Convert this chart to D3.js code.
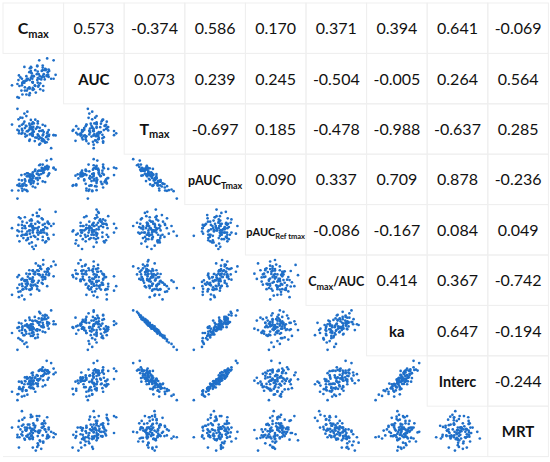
<!DOCTYPE html>
<html>
<head>
<meta charset="utf-8">
<script src="https://cdn.jsdelivr.net/npm/d3@7"></script>
<style>
  body { margin: 0; background: #fff; }
  svg { display: block; }
</style>
</head>
<body>
<svg id="chart" width="550" height="462"></svg>
<script>
// per-subject parameters (standardised units, estimated from the clouds)
var cmax = [-7,-5,27,-10,17,-24,6,2,-32,43,6,9,-13,21,7,-31,-1,-3,-16,27,-25,24,-3,-26,-3,12,29,-13,-2,26,-9,-10,-10,18,-28,15,17,-15,-34,34,-20,9,17,1,3,-6,-14,-18,39,-6,20,-25,7,7,-9,22,-30,30,-9,5,-1,-19,28,-24,10,-19,8,19,10,22,-5,-3,-9,-7,17,-31,15,-17,26,-16,25,-24,14,-4,-4,2,-3,6,-34,-45,29,-7,12,11,-15,18,-22,39,-3,-20];
var auc = [2,5,7,-12,14,-23,20,-10,-1,7,-1,8,-14,0,2,6,-15,-13,5,11,1,15,-4,-17,5,-6,15,1,5,5,17,-24,11,-17,3,13,18,-17,-27,1,19,-9,21,-9,-20,18,-1,-2,1,10,4,-9,-5,12,-21,14,-10,13,-1,8,5,-17,7,-6,29,-12,-11,8,1,16,9,-15,-14,13,5,-28,3,-2,32,-23,6,-5,0,-4,1,14,-16,21,-7,-9,4,19,-15,5,1,-10,-3,29,-5,-5];
var tmax = [-17,51,-30,13,-67,-9,31,-41,84,-27,30,-52,2,-71,56,-12,-1,-30,107,-3,18,-39,-6,-15,64,-83,10,4,32,-30,41,-64,54,-20,96,-47,47,-28,11,-115,68,-33,8,-66,19,18,137,-35,-24,30,-62,47,-20,71,-20,-77,37,-23,26,-42,56,-16,-54,95,3,24,-26,-3,-91,39,-12,10,-55,80,-27,5,-61,40,-12,37,-74,7,5,21,-28,82,-20,31,157,48,-32,21,-42,26,2,-54,54,-25,3,124];
var pauc_tmax = [-6,-12,22,-11,36,-23,-4,21,-41,21,8,18,10,21,-10,-9,1,4,-40,2,-11,25,2,5,-29,36,6,2,-19,32,-12,3,-15,11,-28,18,-14,1,-25,52,-20,5,23,17,-5,-8,-43,-13,25,2,24,-35,16,-21,7,29,-21,10,-2,9,-14,7,24,-42,5,-8,8,13,34,-16,6,6,4,-22,24,-27,26,-26,25,-26,48,-27,8,-6,6,-32,13,-4,-65,-41,29,-19,18,-4,10,18,-26,27,-4,-38];
var pauc_ref = [3,-12,6,-1,9,-5,1,-7,4,16,-3,2,-9,5,-1,11,-18,3,-4,7,-2,-11,1,-6,13,-3,5,-8,0,-5,8,-13,3,-1,10,-3,-10,6,-1,3,-5,12,-7,1,-15,5,-2,1,-5,9,-3,4,-9,7,-4,2,-11,5,-1,15,-6,3,-8,1,-3,11,-5,0,6,-12,8,-1,3,-7,4,-2,10,-5,1,-10,-4,7,-1,2,-16,5,-3,12,-6,1,-9,4,-3,18,-5,0,-8,5,-1,3];
var cmax_auc = [-18,-7,19,13,-2,1,-27,18,-34,37,23,-5,6,19,13,-48,14,23,-26,20,-44,12,-7,-2,-9,28,10,-13,-17,26,-29,23,-28,50,-33,-10,5,-3,5,33,-54,21,-13,12,41,-27,-8,-22,46,-17,5,-13,23,-10,13,0,-15,14,1,-19,-5,-6,28,-19,-31,-3,35,5,12,4,-24,22,0,-15,11,10,5,-13,-19,14,19,-28,26,-4,0,-15,21,-20,-24,-42,26,-41,33,10,-18,38,-27,7,4,-4];
var ka = [3,-9,5,-2,15,0,-6,8,-16,3,-4,11,-1,13,-11,5,-3,7,-22,1,-5,10,-1,4,-13,18,-3,1,-8,6,-5,12,-10,2,-18,9,-7,3,-2,22,-12,5,-1,13,-5,0,-28,8,3,-4,10,-9,5,-15,1,16,-6,4,-3,7,-11,1,12,-20,2,-5,6,-1,20,-8,3,-3,9,-13,5,-1,11,-7,4,-10,15,-2,0,-6,8,-16,3,-4,-32,-9,5,-3,6,-5,1,10,-12,7,-1,-24];
var interc = [-11,-11,30,-21,40,-26,2,9,-42,24,2,29,6,22,-18,-4,-1,-12,-31,2,-8,20,15,-4,-24,33,8,-11,-12,31,-2,-4,-12,0,-27,30,-19,5,-43,53,-12,2,29,7,-9,-3,-44,-3,19,5,29,-50,14,-10,-1,32,-21,25,-7,16,-26,9,21,-33,4,-2,-1,17,30,-15,22,-1,9,-24,13,-26,34,-31,28,-32,60,-28,13,-22,8,-35,24,-12,-61,-35,24,-16,5,3,10,15,-21,36,-5,-48];
var mrt = [23,-7,-6,-12,6,-1,20,0,7,-5,-26,1,-6,3,-8,17,2,-10,1,-8,33,-1,3,-5,-3,-17,6,11,13,-9,-4,-11,11,-19,3,12,-7,6,-6,-1,22,-3,12,6,-32,1,-9,2,-10,-1,17,9,-20,-1,6,13,-10,-9,-13,25,10,6,-11,-7,25,-14,-23,8,-2,3,4,-13,5,-8,13,-27,6,1,23,-8,-12,19,-29,24,-12,9,-27,18,-10,6,3,27,1,-15,4,-17,11,-3,-3,-12];

// upper-triangle correlation coefficients, row by row
var corrRows = [
    [0.573, -0.374, 0.586, 0.170, 0.371, 0.394, 0.641, -0.069],
    [0.073, 0.239, 0.245, -0.504, -0.005, 0.264, 0.564],
    [-0.697, 0.185, -0.478, -0.988, -0.637, 0.285],
    [0.090, 0.337, 0.709, 0.878, -0.236],
    [-0.086, -0.167, 0.084, 0.049],
    [0.414, 0.367, -0.742],
    [0.647, -0.194],
    [-0.244]
];

var labels = [
    { main: "C", sub: "max", tail: "" },
    { main: "AUC", sub: "", tail: "" },
    { main: "T", sub: "max", tail: "" },
    { main: "pAUC", sub: "Tmax", tail: "" },
    { main: "pAUC", sub: "Ref tmax", tail: "" },
    { main: "C", sub: "max", tail: "/AUC" },
    { main: "ka", sub: "", tail: "" },
    { main: "Interc", sub: "", tail: "" },
    { main: "MRT", sub: "", tail: "" }
];
var labelSizes = [16, 15, 16, 12.5, 11, 12.5, 15, 14.5, 15];
var subSizes = [11, 0, 11, 9, 7.5, 9, 0, 0, 0];

var columns = [cmax, auc, tmax, pauc_tmax, pauc_ref, cmax_auc, ka, interc, mrt];

function drawMatrix()
{
    var n = columns.length;
    var x0 = 3, y0 = 3, cw = 60.6, ch = 50.4;
    var dotColor = "#1f6fc8";
    var lineColor = "#efefef";

    var svg = d3.select("#chart");

    for (var i = 0; i < n; i++) {
        for (var j = 0; j < n; j++) {
            var cellX = x0 + j * cw, cellY = y0 + i * ch;
            var g = svg.append("g").attr("transform", "translate(" + cellX + "," + cellY + ")");

            if (i <= j) {
                g.append("rect")
                    .attr("width", cw).attr("height", ch)
                    .attr("fill", "none")
                    .attr("stroke", lineColor)
                    .attr("stroke-width", 1);
            }

            if (i == j) {
                var lab = labels[i];
                var t = g.append("text")
                    .attr("x", cw / 2)
                    .attr("y", ch / 2 + 6)
                    .attr("text-anchor", "middle")
                    .attr("font-family", "Lato, 'Open Sans', sans-serif")
                    .attr("font-weight", "bold")
                    .attr("font-size", labelSizes[i])
                    .attr("fill", "#111");
                t.append("tspan").text(lab.main);
                if (lab.sub) {
                    t.append("tspan").attr("font-size", subSizes[i]).attr("dy", 3.5).text(lab.sub);
                }
                if (lab.tail) {
                    t.append("tspan").attr("dy", -3.5).text(lab.tail);
                }
            } else if (i < j) {
                g.append("text")
                    .attr("x", cw / 2)
                    .attr("y", ch / 2 + 6)
                    .attr("text-anchor", "middle")
                    .attr("font-family", "Lato, 'Open Sans', sans-serif")
                    .attr("font-size", 16)
                    .attr("fill", "#111")
                    .text(corrRows[i][j - i - 1].toFixed(3));
            } else {
                // lower triangle: x = column variable, y = row variable
                var colX = columns[j], colY = columns[i];
                var xs = d3.scaleLinear().domain(d3.extent(colX)).range([9, cw - 8]);
                var ys = d3.scaleLinear().domain(d3.extent(colY)).range([ch - 6, 5]);
                g.selectAll("circle")
                    .data(d3.range(colY.length))
                    .enter().append("circle")
                    .attr("cx", function (k) { return xs(colX[k]); })
                    .attr("cy", function (k) { return ys(colY[k]); })
                    .attr("r", 1.35)
                    .attr("fill", dotColor);
            }
        }
    }

    // closing line under the bottom row
    svg.append("line")
        .attr("x1", x0).attr("x2", x0 + n * cw)
        .attr("y1", y0 + n * ch).attr("y2", y0 + n * ch)
        .attr("stroke", lineColor);
}

drawMatrix();
</script>
</body>
</html>
